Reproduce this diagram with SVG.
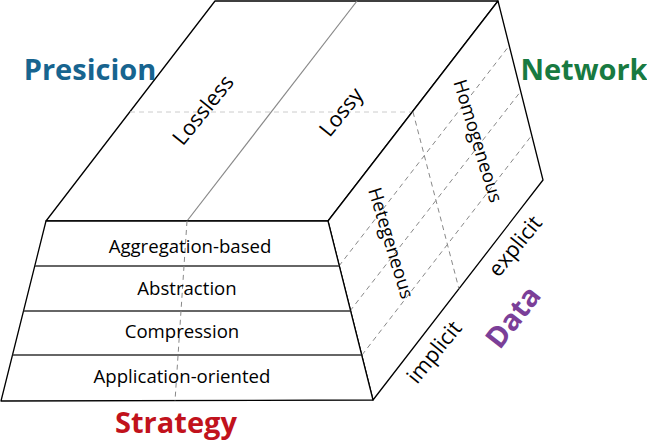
<svg xmlns="http://www.w3.org/2000/svg" width="647" height="444" viewBox="0 0 647 444">
<style>
  .edge{fill:none;stroke:#000;stroke-width:1.3;stroke-linejoin:round}
  .face{fill:#fff;stroke:#000;stroke-width:1.3;stroke-linejoin:round}
  .div{fill:none;stroke:#888;stroke-width:1.2}
  .row{fill:none;stroke:#333;stroke-width:1.3}
  .dash{fill:none;stroke:#888;stroke-width:1;stroke-dasharray:5,4}
  .dashl{fill:none;stroke:#ccc;stroke-width:1;stroke-dasharray:5,4}
  .lbl{font-family:"Open Sans","Liberation Sans",sans-serif;font-size:18.6px;fill:#000;text-anchor:middle}
  .big{font-size:21.5px}
  .ax{font-family:"Open Sans","Liberation Sans",sans-serif;font-size:29px;font-weight:bold;text-anchor:middle}
</style>
<g id="top-face">
  <polygon class="face" points="46,221 215,1 498,1 328,221"/>
  <line class="dashl" x1="130" y1="112" x2="412" y2="112"/>
  <line class="div" x1="187" y1="221" x2="357" y2="1"/>
  <text class="lbl big" transform="translate(203,110) rotate(-51)" dy="0.35em">Lossless</text>
  <text class="lbl big" transform="translate(341,112) rotate(-51)" dy="0.35em">Lossy</text>
</g>
<g id="right-face">
  <polygon class="face" points="328,221 498,1 543,180 373,400"/>
  <line class="dash" x1="339" y1="266" x2="509" y2="46"/>
  <line class="dash" x1="350" y1="311" x2="521" y2="91"/>
  <line class="dash" x1="362" y1="355" x2="532" y2="135"/>
  <line class="dash" x1="413" y1="112" x2="459" y2="289"/>
  <text class="lbl" transform="translate(478,141) rotate(73)" dy="0.35em" font-size="19.5">Homogeneous</text>
  <text class="lbl" transform="translate(391,243) rotate(73)" dy="0.35em" font-size="19.5">Hetegeneous</text>
</g>
<g id="front-face">
  <polygon class="face" points="46,221 328,221 373,400 1,401"/>
  <line class="row" x1="35" y1="266" x2="339" y2="266"/>
  <line class="row" x1="23.5" y1="311" x2="350.5" y2="311"/>
  <line class="row" x1="12.5" y1="355" x2="361.5" y2="355"/>
  <line class="dash" x1="187" y1="221" x2="175" y2="401" stroke-dasharray="4,3"/>
  <text class="lbl" x="190" y="253">Aggregation-based</text>
  <text class="lbl" x="187" y="295">Abstraction</text>
  <text class="lbl" x="182" y="338">Compression</text>
  <text class="lbl" x="182" y="383">Application-oriented</text>
</g>
<g id="data-axis">
  <text class="lbl big" transform="translate(434,352) rotate(-51)" dy="0.35em">implicit</text>
  <text class="lbl big" transform="translate(515,246) rotate(-51)" dy="0.35em">explicit</text>
</g>
<g id="axis-labels">
  <text class="ax" x="90" y="80" fill="#17648f">Presicion</text>
  <text class="ax" x="584" y="80" fill="#187a41">Network</text>
  <text class="ax" x="176" y="433" fill="#c1121c">Strategy</text>
  <text class="ax" transform="translate(513,317) rotate(-52)" dy="0.35em" fill="#7b3f98">Data</text>
</g>
</svg>
